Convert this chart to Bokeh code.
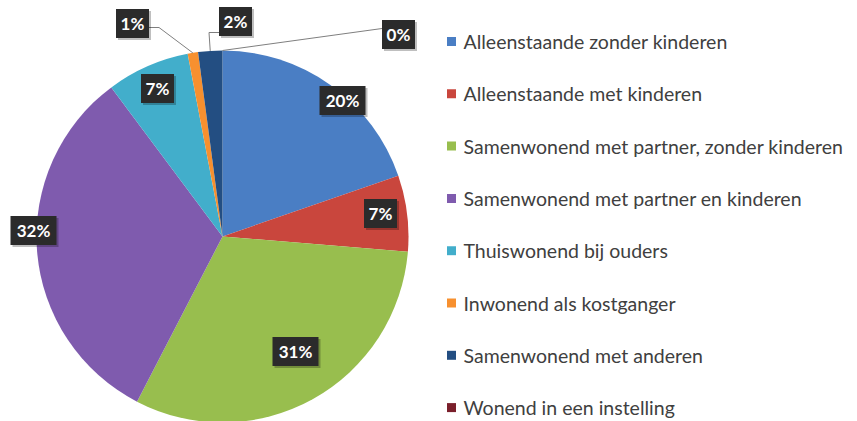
import math
from bokeh.plotting import figure
from bokeh.models import Range1d
from bokeh.core.properties import value
from bokeh.embed import file_html
from bokeh.resources import INLINE

# ---- data ----
categories = [
    "Alleenstaande zonder kinderen",
    "Alleenstaande met kinderen",
    "Samenwonend met partner, zonder kinderen",
    "Samenwonend met partner en kinderen",
    "Thuiswonend bij ouders",
    "Inwonend als kostganger",
    "Samenwonend met anderen",
    "Wonend in een instelling",
]
shares = [19.7, 6.6, 31.3, 32.2, 7.2, 0.9, 2.1, 0.0]
colors = ["#4A7EC4", "#C9463D", "#98BE4E", "#7F5BAE", "#42AECB", "#F7902F", "#234E82", "#7A1F2B"]

# ---- layout ----
W, H = 857, 421
cx, cy, R = 222, 185, 186
# label box centre offsets from the pie centre (px, y up)
label_offsets = [(120, 136), (158, 23), (73, -115), (-189, 6), (-65, 148),
                 (-90, 213), (13, 215), (176, 202)]
# leader settings for outside labels: (elbow length, y offset of leader start)
leaders = {5: (10, -4), 6: (10, -11), 7: (0, 6)}

p = figure(width=W, height=H, x_range=Range1d(0, W), y_range=Range1d(0, H),
           output_backend="svg", toolbar_location=None, min_border=0)
p.axis.visible = False
p.grid.visible = False
p.outline_line_color = None
p.background_fill_color = "white"
p.border_fill_color = "white"

total = sum(shares)
cum = [0.0]
for v in shares:
    cum.append(cum[-1] + v / total)

ws, we, wc = [], [], []
for i, v in enumerate(shares):
    if v <= 0:
        continue
    ws.append(math.pi / 2 - 2 * math.pi * cum[i + 1])
    we.append(math.pi / 2 - 2 * math.pi * cum[i])
    wc.append(colors[i])
p.wedge(x=[cx] * len(ws), y=[cy] * len(ws), radius=R, start_angle=ws, end_angle=we,
        fill_color=wc, line_color=None)

labels = ["%d%%" % round(v) for v in shares]
lx = [cx + o[0] for o in label_offsets]
ly = [cy + o[1] for o in label_offsets]
bw = [7 + 13 * len(t) for t in labels]

# leader lines
xs, ys = [], []
for i, (elb, dy) in leaders.items():
    mid = cum[i] + shares[i] / total / 2
    ang = math.pi / 2 - 2 * math.pi * mid
    px, py = cx + R * math.cos(ang), cy + R * math.sin(ang)
    sgn = 1 if px > lx[i] else -1
    sx = lx[i] + sgn * bw[i] / 2
    sy = ly[i] + dy
    xs.append([sx, sx + sgn * elb, px])
    ys.append([sy, sy, py])
p.multi_line(xs=xs, ys=ys, line_color="#7f7f7f", line_width=1)

# label boxes with shadow
p.rect(x=[x + 2 for x in lx], y=[y - 2 for y in ly], width=bw, height=29,
       fill_color="#000000", fill_alpha=0.25, line_color=None)
p.rect(x=lx, y=ly, width=bw, height=29, fill_color="#2b2b2b", line_color=None)
p.text(x=lx, y=ly, text=labels, text_align="center", text_baseline="middle",
       text_color="white", text_font=value("Lato"), text_font_style="bold",
       text_font_size="17px")

# legend
leg_y = [380 - 52.3 * i for i in range(len(categories))]
p.rect(x=[451] * len(categories), y=leg_y, width=9, height=9, fill_color=colors, line_color=None)
p.text(x=[463] * len(categories), y=leg_y, text=categories, text_align="left",
       text_baseline="middle", text_color="#404040", text_font=value("Lato"),
       text_font_size="19.5px")

open("out.html", "w").write(file_html(p, INLINE))
